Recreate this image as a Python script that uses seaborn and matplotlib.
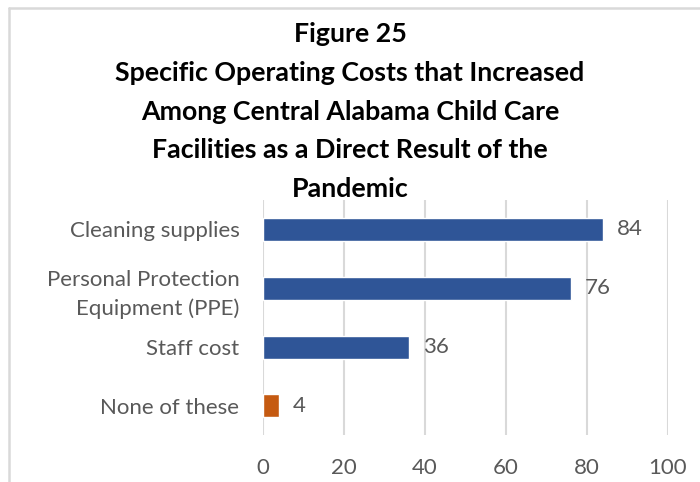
import matplotlib
matplotlib.use("Agg")
import matplotlib.pyplot as plt
import seaborn as sns
import pandas as pd
from matplotlib.lines import Line2D

categories = ["Cleaning supplies", "Personal Protection\nEquipment (PPE)", "Staff cost", "None of these"]
values = [84, 76, 36, 4]
bar_colors = ["#2F5597", "#2F5597", "#2F5597", "#C55A11"]
x_ticks = [0, 20, 40, 60, 80, 100]
title_lines = [
    "Figure 25",
    "Specific Operating Costs that Increased",
    "Among Central Alabama Child Care",
    "Facilities as a Direct Result of the",
    "Pandemic",
]

df = pd.DataFrame({"category": categories, "value": values})

sns.set_theme(style="white")
plt.rcParams["font.family"] = ["Lato", "DejaVu Sans"]

text_gray = "#595959"
grid_gray = "#D9D9D9"

fig = plt.figure(figsize=(7.0, 4.82), dpi=100)
ax = fig.add_axes([0.3757, 0.0965, 0.5786, 0.4895])

sns.barplot(data=df, x="value", y="category", hue="category", palette=bar_colors,
            legend=False, width=0.39, ax=ax, saturation=1, zorder=3)

ax.set_xlim(0, 100)
ax.set_xticks(x_ticks)
ax.set_xticklabels([str(t) for t in x_ticks])
ax.grid(axis="x", color=grid_gray, linewidth=1.5, zorder=0)
ax.grid(axis="y", visible=False)
for side in ["top", "right", "bottom", "left"]:
    ax.spines[side].set_visible(False)
ax.set_xlabel("")
ax.set_ylabel("")
ax.tick_params(axis="x", length=0, pad=16, labelsize=16, labelcolor=text_gray)
ax.tick_params(axis="y", length=0, pad=17, labelsize=16, labelcolor=text_gray)
ax.set_yticks(range(len(categories)))
ax.set_yticklabels(categories, linespacing=1.5, fontsize=16, color=text_gray)

for container in ax.containers:
    ax.bar_label(container, fmt="%g", padding=10, fontsize=16, color=text_gray)

fig.text(0.5, 1 - 22 / 482, "\n".join(title_lines), ha="center", va="top",
         fontsize=19.3, fontweight="bold", color="black", linespacing=1.74)

# chart-area frame
fig.add_artist(Line2D([9 / 700, 9 / 700], [0, 1 - 8 / 482], color=grid_gray, linewidth=1.8))
fig.add_artist(Line2D([9 / 700, 1], [1 - 8 / 482, 1 - 8 / 482], color=grid_gray, linewidth=1.8))

fig.savefig("out.png", dpi=100)
